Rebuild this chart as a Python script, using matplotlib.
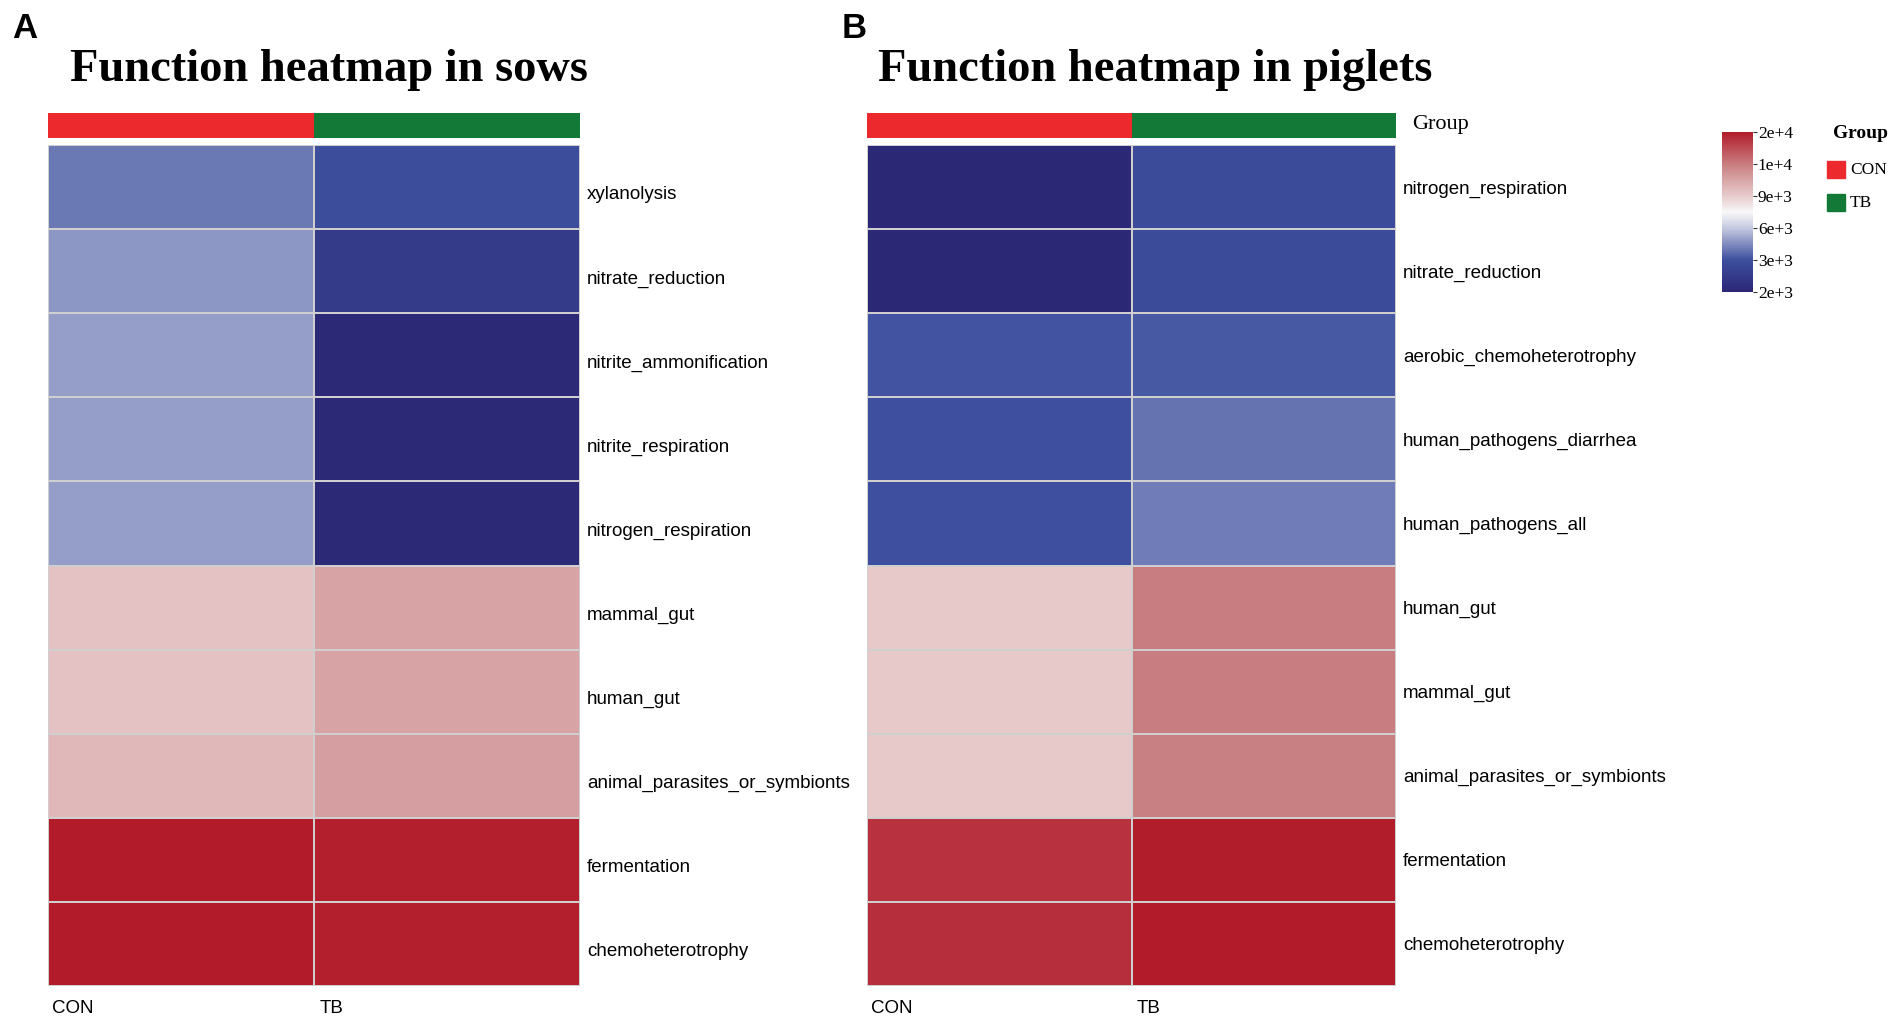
import numpy as np
import matplotlib
matplotlib.use('Agg')
import matplotlib.pyplot as plt
from matplotlib.colors import LinearSegmentedColormap, ListedColormap
from matplotlib.patches import Rectangle

# ---------------- data (colour-scale level, 0 = 2e+3 ... 5 = 2e+4) ----------------
groups = ['CON', 'TB']
group_colors = ['#ec2a2d', '#127936']

sows_functions = ['xylanolysis', 'nitrate_reduction', 'nitrite_ammonification',
                  'nitrite_respiration', 'nitrogen_respiration', 'mammal_gut',
                  'human_gut', 'animal_parasites_or_symbionts', 'fermentation',
                  'chemoheterotrophy']
sows_con = [1.33, 1.59, 1.65, 1.65, 1.65, 3.13, 3.13, 3.26, 5.00, 5.00]
sows_tb = [0.97, 0.50, 0.05, 0.05, 0.05, 3.53, 3.53, 3.58, 4.95, 4.95]

piglets_functions = ['nitrogen_respiration', 'nitrate_reduction',
                     'aerobic_chemoheterotrophy', 'human_pathogens_diarrhea',
                     'human_pathogens_all', 'human_gut', 'mammal_gut',
                     'animal_parasites_or_symbionts', 'fermentation',
                     'chemoheterotrophy']
piglets_con = [0.03, 0.03, 1.05, 1.00, 1.00, 3.04, 3.04, 3.04, 4.76, 4.80]
piglets_tb = [0.89, 0.89, 1.09, 1.30, 1.37, 4.00, 4.00, 3.98, 4.98, 5.00]

cbar_ticks = [0, 1, 2, 3, 4, 5]
cbar_ticklabels = ['2e+3', '3e+3', '6e+3', '9e+3', '1e+4', '2e+4']

# ---------------- style ----------------
W, H = 1904, 1025
SANS = 'Liberation Sans'
SERIF = 'Liberation Serif'

cmap = LinearSegmentedColormap.from_list('fh', [
    (0.0, '#2b2775'), (0.2, '#3d4f9e'), (0.4, '#c5c9e0'), (0.5, '#f8f8f8'),
    (0.6, '#e8cccd'), (0.8, '#c87e80'), (1.0, '#b21b2a')])


def box(l, t, r, b):
    # pixel box -> figure fraction [left, bottom, width, height]
    return [l / W, 1 - b / H, (r - l) / W, (b - t) / H]


fig = plt.figure(figsize=(W / 100, H / 100), dpi=100)


def heatmap(x0, x1, names, con, tb, label_off):
    ax = fig.add_axes(box(x0, 145, x1, 986))
    vals = np.column_stack([con, tb])
    ax.pcolormesh(vals, cmap=cmap, vmin=0, vmax=5,
                  edgecolors='#cfcfcf', linewidth=1.3)
    ax.set_xlim(0, 2)
    ax.set_ylim(len(names), 0)
    for s in ax.spines.values():
        s.set_visible(False)
    ax.yaxis.tick_right()
    ax.set_yticks(np.arange(len(names)) + label_off)
    ax.set_yticklabels(names, fontsize=13.5, family=SANS)
    ax.set_xticks([0.015, 1.02])
    ax.set_xticklabels(groups, fontsize=13.5, family=SANS, ha='left')
    ax.tick_params(length=0, pad=5)
    ax.tick_params(axis='x', pad=10)

    bar = fig.add_axes(box(x0, 113, x1, 138))
    bar.pcolormesh(np.array([[0, 1]]), cmap=ListedColormap(group_colors),
                   vmin=0, vmax=1)
    bar.set_axis_off()
    return ax


heatmap(48, 580, sows_functions, sows_con, sows_tb, 0.57)
heatmap(867, 1396, piglets_functions, piglets_con, piglets_tb, 0.5)

# panel letters + titles
fig.text(12 / W, 1 - 28 / H, 'A', fontsize=25, fontweight='bold', family=SANS, va='center')
fig.text(842 / W, 1 - 28 / H, 'B', fontsize=25, fontweight='bold', family=SANS, va='center')
fig.text(70 / W, 1 - 70 / H, 'Function heatmap in sows', fontsize=33.5,
         fontweight='bold', family=SERIF, va='center')
fig.text(878 / W, 1 - 70 / H, 'Function heatmap in piglets', fontsize=33.5,
         fontweight='bold', family=SERIF, va='center')

fig.text(1412 / W, 1 - 125 / H, 'Group', fontsize=16, family=SERIF, va='center')

# colour bar
cax = fig.add_axes(box(1722, 132, 1753, 292))
sm = plt.cm.ScalarMappable(cmap=cmap, norm=plt.Normalize(0, 5))
cb = fig.colorbar(sm, cax=cax, ticks=cbar_ticks)
cb.set_ticklabels(cbar_ticklabels)
cb.outline.set_visible(False)
cax.tick_params(length=3, width=0.8, pad=0.5, color='#333333')
for t in cax.get_yticklabels():
    t.set_fontfamily(SERIF)
    t.set_fontsize(12.5)

# group legend
fig.text(1833 / W, 1 - 133 / H, 'Group', fontsize=14, fontweight='bold',
         family=SERIF, va='center')
for i, (g, c) in enumerate(zip(groups, group_colors)):
    top = 161 + i * 33
    fig.add_artist(Rectangle((1827 / W, 1 - (top + 17) / H), 18 / W, 17 / H,
                             transform=fig.transFigure, color=c))
    fig.text(1850 / W, 1 - (top + 9) / H, g, fontsize=12.5, family=SERIF, va='center')

fig.savefig('out.png', dpi=100)
